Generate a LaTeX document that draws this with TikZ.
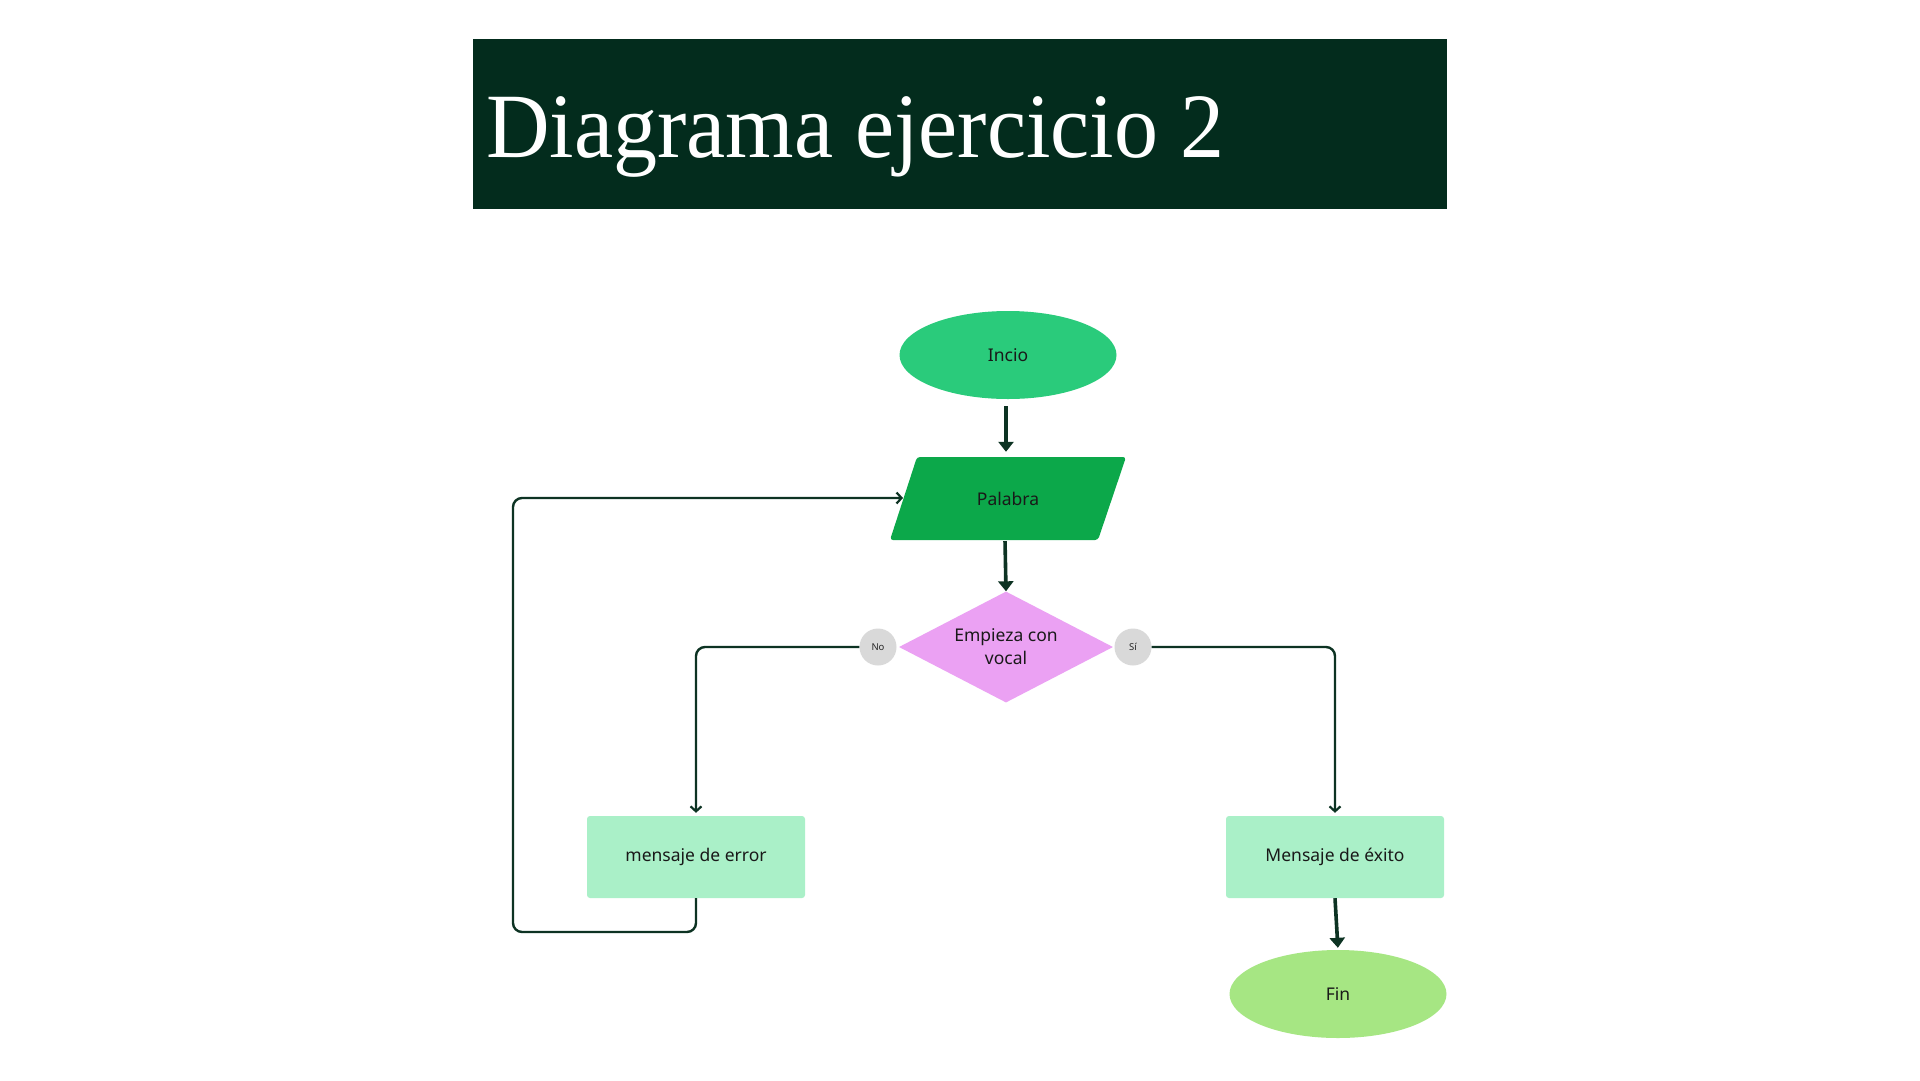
\documentclass[tikz,border=0pt]{standalone}
\usepackage{fontspec}
\setmainfont{Liberation Serif}
\newfontfamily\nodefont{Noto Sans}
\usetikzlibrary{shapes.geometric,arrows.meta}
\definecolor{titlebg}{HTML}{032C1D}
\definecolor{linec}{HTML}{0D3323}
\definecolor{incioc}{HTML}{2ACB7B}
\definecolor{palc}{HTML}{0CA84A}
\definecolor{diamc}{HTML}{EBA1F3}
\definecolor{boxc}{HTML}{AAF0C8}
\definecolor{finc}{HTML}{A6E683}
\definecolor{circc}{HTML}{D9D9D9}
\tikzset{
  lbl/.style={font=\nodefont\fontsize{17.5}{23}\selectfont, text=black!90, align=center},
  term/.style={ellipse, minimum width=217, minimum height=88, inner sep=0, lbl},
  procbox/.style={rectangle, rounded corners=3, fill=boxc, minimum width=218, minimum height=82, inner sep=0, lbl},
  tag/.style={circle, fill=circc, minimum size=37, inner sep=0, font=\nodefont\fontsize{9.5}{10}\selectfont, text=black!85},
  thickarrow/.style={draw=linec, line width=3.6, -{Triangle[length=10,width=15]}},
  thinarrow/.style={draw=linec, line width=2.4, rounded corners=9, -{Straight Barb[length=5,width=11,line width=2.2]}},
}
\begin{document}
\begin{tikzpicture}[x=1pt,y=-1pt]
\fill[white] (0,0) rectangle (1920,1080);
\useasboundingbox (0,0) rectangle (1920,1080);
% title
\fill[titlebg] (473,39) rectangle (1447,209);
\node[anchor=base west, inner sep=0, text=white, font=\fontsize{92}{100}\selectfont] (title) at (486,157) {\resizebox{738pt}{\height}{Diagrama ejercicio 2}};
% nodes
\node[term, fill=incioc] (incio) at (1008,355) {Incio};
\fill[palc, rounded corners=3] (917,457) -- (1126,457) -- (1098,540) -- (890,540) -- cycle;
\node[lbl, minimum width=209, minimum height=83, inner sep=0] (pal) at (1008,498.5) {Palabra};
\coordinate (palin) at (903,498);
\node[diamond, aspect=1.93, fill=diamc, minimum width=214, minimum height=111, inner sep=0, lbl] (dec) at (1006,647) {Empieza con\\vocal};
\node[tag] (no) at (878,647) {No};
\node[tag] (si) at (1133,647) {Sí};
\node[procbox] (err) at (696,857) {mensaje de error};
\node[procbox] (ok) at (1335,857) {Mensaje de éxito};
\node[term, fill=finc] (fin) at (1338,994) {Fin};
\coordinate (loopbl) at (513,932);
% connectors
\draw[thickarrow, shorten <=7, shorten >=5] ([xshift=-2]incio.south) -- ([xshift=-2]pal.north);
\draw[thickarrow, shorten <=1] ([xshift=-3]pal.south) -- (dec.north);
\draw[thinarrow, shorten >=3] (no.west) -| (err.north);
\draw[thinarrow, shorten >=3] (si.east) -| (ok.north);
\draw[thinarrow] (err.south) |- (loopbl) |- (palin);
\draw[thickarrow, shorten <=0, shorten >=2] (ok.south) -- (fin.north);
\end{tikzpicture}
\end{document}
